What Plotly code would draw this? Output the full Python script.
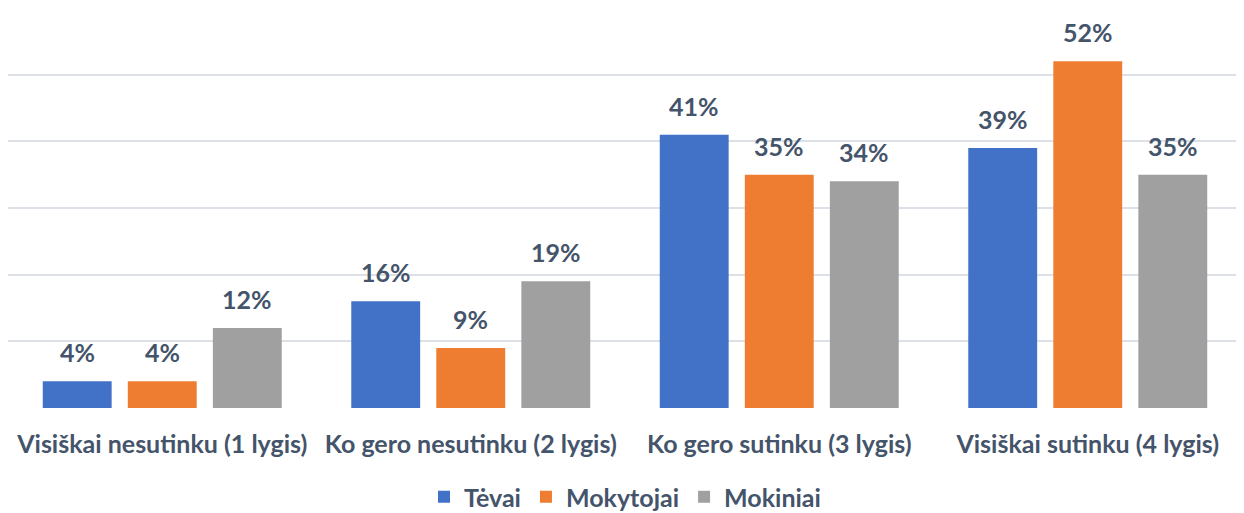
import plotly.graph_objects as go

categories = [
    "Visiškai nesutinku (1 lygis)",
    "Ko gero nesutinku (2 lygis)",
    "Ko gero sutinku (3 lygis)",
    "Visiškai sutinku (4 lygis)",
]
tevai = [0.04, 0.16, 0.41, 0.39]
mokytojai = [0.04, 0.09, 0.35, 0.52]
mokiniai = [0.12, 0.19, 0.34, 0.35]

series = [
    ("Tėvai", tevai, "#4272C8"),
    ("Mokytojai", mokytojai, "#EE7D31"),
    ("Mokiniai", mokiniai, "#A0A0A0"),
]

text_color = "#44546A"
font_family = "Lato"
label_font = dict(size=25, color=text_color, family=font_family, weight="bold")

# the page body adds an 8px offset on top/left, so margins are compensated
width, height = 1244, 513
margin = dict(t=0, r=10, b=113, l=0, autoexpand=False)
bargap = 0.173
bargroupgap = 0.19

# horizontal slot of one bar inside a group, in pixels
plot_w = width - margin["l"] - margin["r"]
slot = plot_w / len(categories) * (1 - bargap) / len(series)

fig = go.Figure()

for i, (name, values, color) in enumerate(series):
    fig.add_trace(
        go.Bar(
            name=name,
            x=categories,
            y=values,
            marker=dict(color=color, line=dict(width=0)),
        )
    )
    for cat, val in zip(categories, values):
        fig.add_annotation(
            x=cat,
            y=val,
            text=f"{val:.0%}",
            showarrow=False,
            xshift=(i - (len(series) - 1) / 2) * slot,
            yshift=29,
            yanchor="middle",
            font=label_font,
        )

fig.update_layout(
    template="plotly_white",
    width=width,
    height=height,
    barmode="group",
    bargap=bargap,
    bargroupgap=bargroupgap,
    plot_bgcolor="white",
    paper_bgcolor="white",
    font=dict(family=font_family, size=25, color=text_color),
    margin=margin,
    xaxis=dict(
        showgrid=False,
        showline=False,
        ticks="",
        automargin=False,
        ticklabelstandoff=19,
        tickfont=label_font,
    ),
    yaxis=dict(
        range=[0, 0.6],
        dtick=0.1,
        showticklabels=False,
        automargin=False,
        gridcolor="#DCE1E8",
        gridwidth=2,
        zeroline=False,
        showline=False,
    ),
    legend=dict(
        orientation="h",
        x=0.5,
        xanchor="center",
        y=-0.2225,
        yanchor="middle",
        font=label_font,
        itemwidth=30,
    ),
)

fig.write_html("out.html")
